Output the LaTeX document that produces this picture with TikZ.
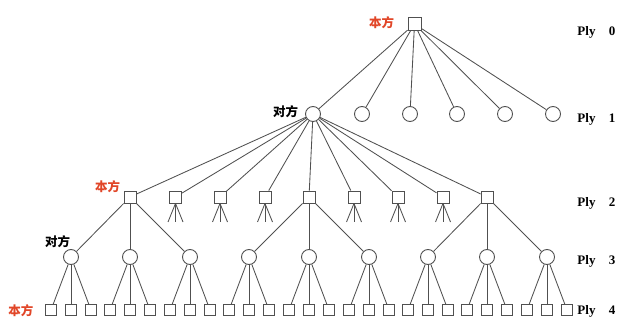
\documentclass[tikz,border=0pt]{standalone}
\usepackage{fontspec}
\setmainfont{Liberation Serif}
\newfontfamily\cjk{Noto Sans CJK SC}
\definecolor{benred}{RGB}{225,70,40}
\definecolor{edgec}{RGB}{80,80,80}
\begin{document}
\begin{tikzpicture}[x=1pt,y=-1pt,
  sq/.style={draw=edgec, line width=0.9pt, rectangle, minimum size=12pt, inner sep=0pt},
  sqs/.style={sq, minimum size=11pt},
  cir/.style={draw=edgec, line width=0.9pt, circle, minimum size=15pt, inner sep=0pt},
  edgeline/.style={draw=edgec, line width=0.85pt},
  lblred/.style={font=\cjk\bfseries\fontsize{12.5}{13}\selectfont, text=benred, inner sep=0pt},
  lblblk/.style={font=\cjk\bfseries\fontsize{12.5}{13}\selectfont, text=black, inner sep=0pt},
  plyt/.style={font=\bfseries\fontsize{13}{13}\selectfont, inner sep=0pt, anchor=base}
]
\useasboundingbox (0,0) rectangle (620,320);

% Ply 0
\node[sq, minimum size=13pt] (root) at (414.5,24) {};
\node[lblred] (l0) at (381.5,23) {本方};

% Ply 1
\foreach \x [count=\i] in {313,362,410,457,505,553}
  \node[cir] (a\i) at (\x,114) {};
\node[lblblk] (l1) at (285.5,112) {对方};
\foreach \i in {1,...,6}
  \draw[edgeline] (root) -- (a\i);

% Ply 2
\foreach \x [count=\i] in {130,175.5,220,265,309,354,398,443,487}
  \node[sq] (b\i) at (\x,197) {};
\node[lblred] (l2) at (107.5,187) {本方};
\foreach \i in {1,...,9}
  \draw[edgeline] (a1) -- (b\i);

% small tripods under collapsed squares
\foreach \i/\x in {2/175.5,3/220,4/265,6/354,7/398,8/443} {
  \coordinate (t\i l) at (\x-7.5,222);
  \coordinate (t\i m) at (\x,222);
  \coordinate (t\i r) at (\x+7.5,222);
  \draw[edgeline] (b\i.south) -- (t\i l);
  \draw[edgeline] (b\i.south) -- (t\i m);
  \draw[edgeline] (b\i.south) -- (t\i r);
}

% Ply 3
\foreach \x [count=\i] in {71,130,190,249,309,369,428,487,547}
  \node[cir] (c\i) at (\x,257) {};
\node[lblblk] (l3) at (57.5,242) {对方};
\draw[edgeline] (b1) -- (c1);
\draw[edgeline] (b1) -- (c2);
\draw[edgeline] (b1) -- (c3);
\draw[edgeline] (b5) -- (c4);
\draw[edgeline] (b5) -- (c5);
\draw[edgeline] (b5) -- (c6);
\draw[edgeline] (b9) -- (c7);
\draw[edgeline] (b9) -- (c8);
\draw[edgeline] (b9) -- (c9);

% Ply 4
\foreach \x [count=\i] in {71,130,190,249,309,369,428,487,547} {
  \node[sqs] (d\i l) at (\x-20,310) {};
  \node[sqs] (d\i m) at (\x,310) {};
  \node[sqs] (d\i r) at (\x+20,310) {};
  \draw[edgeline] (c\i) -- (d\i l);
  \draw[edgeline] (c\i) -- (d\i m);
  \draw[edgeline] (c\i) -- (d\i r);
}
\node[lblred] (l4) at (21,311) {本方};

% Ply labels
\foreach \y/\n in {35.5/0,122.5/1,206.5/2,264.5/3,314.5/4} {
  \node[plyt] (ply\n) at (586.5,\y) {Ply};
  \node[plyt] (plyn\n) at (612,\y) {\n};
}
\end{tikzpicture}
\end{document}
